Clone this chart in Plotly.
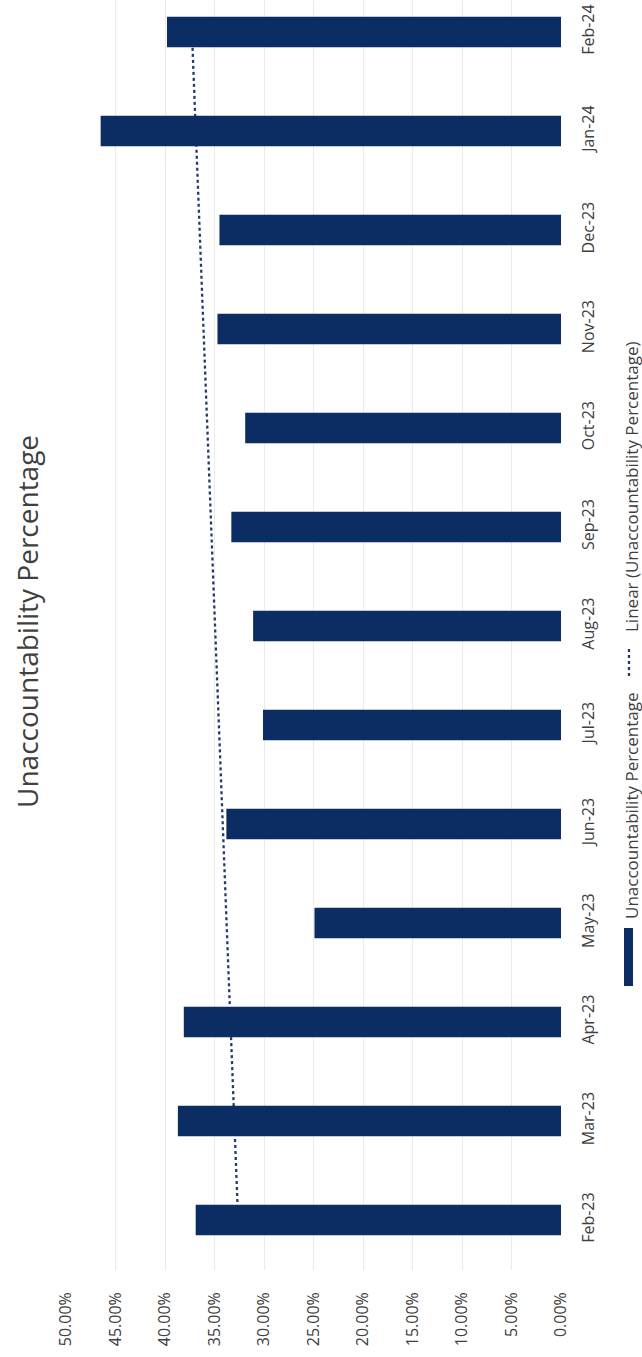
import numpy as np
import plotly.graph_objects as go

# ---------------- data ----------------
months = ["Feb-23", "Mar-23", "Apr-23", "May-23", "Jun-23", "Jul-23", "Aug-23",
          "Sep-23", "Oct-23", "Nov-23", "Dec-23", "Jan-24", "Feb-24"]
unaccountability = [0.369, 0.387, 0.381, 0.249, 0.338, 0.301, 0.311,
                    0.333, 0.319, 0.347, 0.345, 0.465, 0.398]
pct_ticks = [0.0, 0.05, 0.10, 0.15, 0.20, 0.25, 0.30, 0.35, 0.40, 0.45, 0.50]
title_text = "Unaccountability Percentage"
legend_bar = "Unaccountability Percentage"
legend_line = "Linear (Unaccountability Percentage)"

# linear trendline (Excel-style least squares)
idx = np.arange(len(months))
slope, intercept = np.polyfit(idx, unaccountability, 1)
trend = slope * idx + intercept

# ---------------- layout geometry ----------------
W, H = 642, 1357
ML, MR, MT, MB = 66, 81, 0, 87
PW = W - ML - MR
PH = H - MT - MB
NAVY = "#0c2d64"
TREND = "#26396b"
TXT = "#404040"
FONT = "Open Sans"

def px(xp):
    return (xp - ML) / PW

def py(yp):
    return (MT + PH - yp) / PH

step = 99.0
yrange = [-(PH - 1220) / step, 12 + 32 / step]

fig = go.Figure()

# trendline on base axes (drawn beneath bars)
fig.add_trace(go.Scatter(
    x=trend, y=months, mode="lines", xaxis="x", yaxis="y",
    line=dict(color=TREND, width=2.3, dash="dot"),
    name=legend_line, showlegend=False, hoverinfo="skip"))

# bars on overlaying axes (drawn above trendline)
fig.add_trace(go.Bar(
    x=unaccountability, y=months, orientation="h", xaxis="x2", yaxis="y2",
    width=0.31, marker=dict(color=NAVY, line=dict(width=0)),
    name=legend_bar, showlegend=False))

fig.update_layout(
    width=W, height=H,
    margin=dict(l=ML, r=MR, t=MT, b=MB, pad=0),
    paper_bgcolor="white", plot_bgcolor="white",
    font=dict(family=FONT, color=TXT),
    showlegend=False,
    xaxis=dict(
        range=[0.5, 0.0], tickvals=pct_ticks, tickformat=".2%",
        tickangle=-90, tickfont=dict(size=16, color=TXT, family=FONT),
        showgrid=True, gridcolor="#ebebeb", gridwidth=1,
        zeroline=False, showline=False, ticks="", ticklabelstandoff=18,
        fixedrange=True),
    yaxis=dict(
        type="category", categoryorder="array", categoryarray=months,
        range=yrange, side="right", tickangle=-90,
        tickfont=dict(size=16, color=TXT, family=FONT),
        showgrid=False, zeroline=False, showline=False, ticks="",
        ticklabelstandoff=16, fixedrange=True),
    xaxis2=dict(overlaying="x", range=[0.5, 0.0], visible=False,
                showgrid=False, zeroline=False, fixedrange=True),
    yaxis2=dict(overlaying="y", type="category", categoryorder="array",
                categoryarray=months, range=yrange, visible=False,
                showgrid=False, zeroline=False, fixedrange=True),
)

annotations = [
    dict(text=title_text, x=px(27), y=py(622), xref="paper", yref="paper",
         textangle=-90, showarrow=False, xanchor="center", yanchor="middle",
         font=dict(size=28, color=TXT, family=FONT)),
    dict(text=legend_bar, x=px(631), y=py(806), xref="paper", yref="paper",
         textangle=-90, showarrow=False, xanchor="center", yanchor="middle",
         font=dict(size=17, color=TXT, family=FONT)),
    dict(text=legend_line, x=px(631), y=py(487), xref="paper", yref="paper",
         textangle=-90, showarrow=False, xanchor="center", yanchor="middle",
         font=dict(size=17, color=TXT, family=FONT)),
]
fig.update_layout(annotations=annotations)

shapes = [
    dict(type="rect", xref="paper", yref="paper",
         x0=px(624), x1=px(633), y0=py(986), y1=py(928),
         fillcolor=NAVY, line=dict(width=0)),
    dict(type="line", xref="paper", yref="paper",
         x0=px(629), x1=px(629), y0=py(676), y1=py(648),
         line=dict(color=TREND, width=2.3, dash="dot")),
]
fig.update_layout(shapes=shapes)

fig.write_html("out.html")
